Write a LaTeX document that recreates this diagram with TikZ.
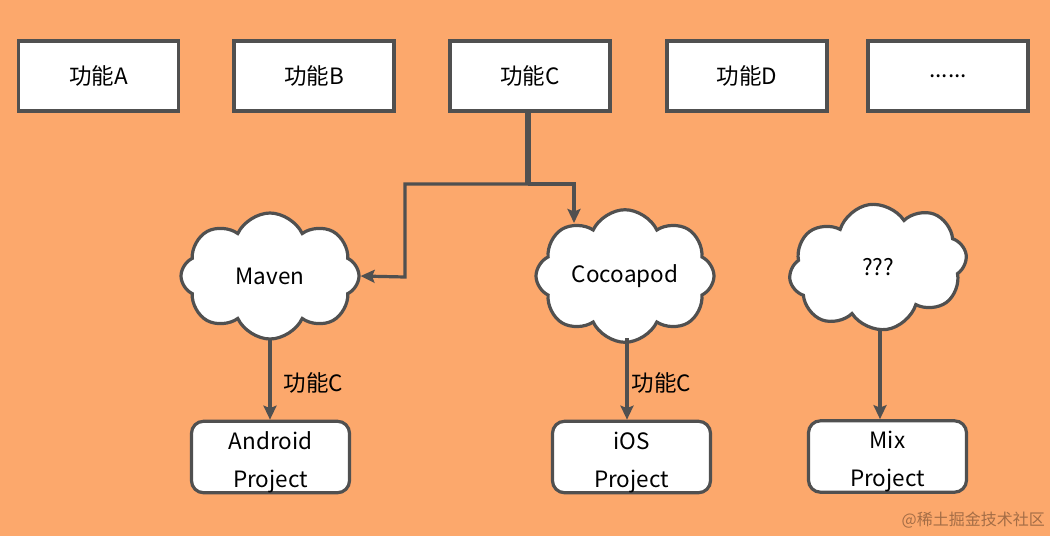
\documentclass[tikz,border=0pt]{standalone}
\usepackage{fontspec}
\setmainfont{Noto Sans CJK SC}
\usetikzlibrary{shapes.symbols,arrows.meta}
\definecolor{bg}{RGB}{252,168,108}
\definecolor{ln}{RGB}{80,80,80}
\tikzset{
  box/.style={draw=ln,line width=3.2pt,fill=white,minimum width=160pt,minimum height=70pt,inner sep=0pt,font=\fontsize{22.5}{26}\selectfont},
  rbox/.style={draw=ln,line width=3.2pt,fill=white,rounded corners=12pt,minimum width=158pt,minimum height=69pt,inner sep=0pt,align=center,font=\fontsize{22.5}{38}\selectfont},
  cld/.style={cloud,cloud puffs=8,cloud puff arc=130,aspect=1.45,draw=ln,line width=3.2pt,fill=white,minimum width=178pt,minimum height=126pt,inner sep=0pt,font=\fontsize{22.5}{26}\selectfont},
  conn/.style={draw=ln,line width=3.2pt},
  arr/.style={conn,-{Stealth[length=14pt,width=13pt,inset=2.5pt]}},
  trunk/.style={draw=ln,line width=6pt},
  lbl/.style={font=\fontsize{22.5}{26}\selectfont,inner sep=0pt,anchor=west},
}
\begin{document}
\begin{tikzpicture}[x=1pt,y=-1pt]
\fill[bg] (0,0) rectangle (1050,536);
\useasboundingbox (0,0) rectangle (1050,536);
\node[box] (a) at (98.5,76) {功能A};
\node[box] (b) at (314,76) {功能B};
\node[box] (c) at (530,76) {功能C};
\node[box] (d) at (747,76) {功能D};
\node[box] (e) at (948,76) {......};
\node[cld] (mvn) at (270,276) {Maven};
\node[cld] (pod) at (625,276) {Cocoapod};
\node[cld,rotate=8] (unk) at (878,267) {\rotatebox{-8}{???}};
\node[rbox] (and) at (270.5,457) {\rule{0pt}{28pt}Android\\Project};
\node[rbox] (ios) at (631.5,457) {\rule{0pt}{28pt}iOS\\Project};
\node[rbox] (mix) at (887.5,456.5) {\rule{0pt}{28pt}Mix\\Project};
\coordinate (j) at (528,184);
\coordinate (k) at (405,277);
\coordinate (p) at (574,184);
\coordinate (q) at (574,223);
\draw[trunk] (c.south -| j) -- (j);
\draw[arr] (j) -| (k) -- (mvn.east);
\draw[arr] (j) -- (p) -- (q);
\coordinate (m1) at (270,338);
\coordinate (p1) at (627,338);
\coordinate (u1) at (880,330);
\draw[arr] (m1) -- (m1 |- and.north) node[lbl,pos=0.55,xshift=12pt] {功能C};
\draw[arr] (p1) -- (p1 |- ios.north) node[lbl,pos=0.55,xshift=3pt] {功能C};
\draw[arr] (u1) -- (u1 |- mix.north);
\node[font=\fontsize{16}{18}\selectfont,text=black!35!bg,anchor=east,inner sep=0pt] (wm) at (1045,520) {@稀土掘金技术社区};
\end{tikzpicture}
\end{document}
